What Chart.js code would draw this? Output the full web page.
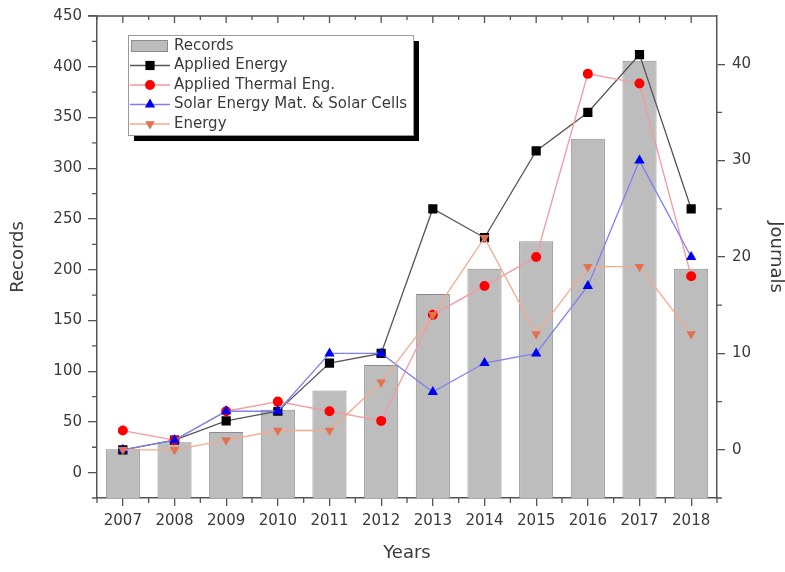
<!DOCTYPE html>
<html>
<head>
<meta charset="utf-8">
<script src="https://cdn.jsdelivr.net/npm/chart.js@4.4.1/dist/chart.umd.min.js"></script>
<style>
  html, body { margin: 0; padding: 0; background: #fff; }
</style>
</head>
<body>
<canvas id="chart" width="785" height="572"></canvas>
<script>
const years = ['2007', '2008', '2009', '2010', '2011', '2012', '2013', '2014', '2015', '2016', '2017', '2018'];

// bars, left axis
const records = [23, 30, 40, 62, 81, 106, 176, 201, 228, 329, 406, 201];

// journal lines, right axis
const appliedEnergy  = [0, 1, 3, 4, 9, 10, 25, 22, 31, 35, 41, 25];
const appliedThermal = [2, 1, 4, 5, 4, 3, 14, 17, 20, 39, 38, 18];
const solarCells     = [0, 1, 4, 4, 10, 10, 6, 9, 10, 17, 30, 20];
const energy         = [0, 0, 1, 2, 2, 7, 14, 22, 12, 19, 19, 12];

const recordTicks  = [0, 50, 100, 150, 200, 250, 300, 350, 400, 450];
const journalTicks = [0, 10, 20, 30, 40];

const recordsRange  = { min: -25, max: 450 };
const journalsRange = { min: -5, max: 45 };

const axisColor = '#555';
const textColor = '#3a3a3a';
const fontFamily = '"DejaVu Sans", "Liberation Sans", sans-serif';

// minor ticks, the top frame line and the mirrored top ticks
const frameTicks = {
  id: 'frameTicks',
  afterDraw(chart) {
    const { ctx, chartArea: a, scales } = chart;
    ctx.save();
    ctx.strokeStyle = axisColor;
    ctx.lineWidth = 1.3;
    ctx.beginPath();
    ctx.moveTo(a.left - 9, a.top);
    ctx.lineTo(a.right, a.top);

    for (let v = -25; v < recordsRange.max; v += 50) {
      const py = scales.y.getPixelForValue(v);
      ctx.moveTo(a.left - 5, py);
      ctx.lineTo(a.left, py);
    }
    for (let v = -5; v < journalsRange.max; v += 10) {
      const py = scales.y1.getPixelForValue(v);
      ctx.moveTo(a.right, py);
      ctx.lineTo(a.right + 5, py);
    }

    const step = scales.x.getPixelForValue(1) - scales.x.getPixelForValue(0);
    years.forEach((yr, i) => {
      const px = scales.x.getPixelForValue(i);
      ctx.moveTo(px, a.top);
      ctx.lineTo(px, a.top + 7);
      const mx = px - step / 2;
      ctx.moveTo(mx, a.top);
      ctx.lineTo(mx, a.top + 4);
      ctx.moveTo(mx, a.bottom);
      ctx.lineTo(mx, a.bottom + 5);
    });
    const endX = scales.x.getPixelForValue(years.length - 1) + step / 2;
    ctx.moveTo(endX, a.bottom);
    ctx.lineTo(endX, a.bottom + 5);
    ctx.stroke();
    ctx.restore();
  }
};

function drawMarker(ctx, style, x, y, r, rotation) {
  ctx.beginPath();
  if (style === 'rect') {
    const s = r * Math.SQRT1_2;
    ctx.rect(x - s, y - s, 2 * s, 2 * s);
  } else if (style === 'circle') {
    ctx.arc(x, y, r, 0, Math.PI * 2);
  } else if (style === 'triangle') {
    let rad = (rotation || 0) * Math.PI / 180;
    for (let k = 0; k < 3; k++) {
      const px = x + Math.sin(rad) * r;
      const py = y - Math.cos(rad) * r;
      k === 0 ? ctx.moveTo(px, py) : ctx.lineTo(px, py);
      rad += Math.PI * 2 / 3;
    }
    ctx.closePath();
  }
  ctx.fill();
}

// boxed legend with the drop shadow
const boxLegend = {
  id: 'boxLegend',
  afterDraw(chart) {
    const ctx = chart.ctx;
    const x = 128, y = 35, w = 285, h = 100;
    ctx.save();
    ctx.fillStyle = '#000';
    ctx.fillRect(x + 6, y + 6, w, h);
    ctx.fillStyle = '#fff';
    ctx.fillRect(x, y, w, h);
    ctx.strokeStyle = '#9a9a9a';
    ctx.lineWidth = 1;
    ctx.strokeRect(x + 0.5, y + 0.5, w, h);

    ctx.font = '15px ' + fontFamily;
    ctx.textBaseline = 'middle';
    chart.data.datasets.forEach((ds, i) => {
      const cy = y + 11 + i * 19.5;
      if (ds.type === 'bar') {
        ctx.fillStyle = ds.backgroundColor;
        ctx.fillRect(x + 3, cy - 6, 37, 12);
        ctx.strokeStyle = ds.borderColor;
        ctx.strokeRect(x + 3.5, cy - 5.5, 36, 11);
      } else {
        ctx.strokeStyle = ds.borderColor;
        ctx.lineWidth = ds.borderWidth;
        ctx.beginPath();
        ctx.moveTo(x + 2, cy);
        ctx.lineTo(x + 42, cy);
        ctx.stroke();
        ctx.fillStyle = ds.pointBackgroundColor;
        drawMarker(ctx, ds.pointStyle, x + 22, cy, ds.pointRadius, ds.pointRotation);
      }
      ctx.fillStyle = textColor;
      ctx.fillText(ds.label, x + 46, cy);
    });
    ctx.restore();
  }
};

function lineSet(label, data, lineColor, markColor, style, radius, rotation, order) {
  return {
    type: 'line',
    label: label,
    data: data,
    yAxisID: 'y1',
    borderColor: lineColor,
    borderWidth: 1.3,
    pointStyle: style,
    pointRadius: radius,
    pointRotation: rotation,
    pointBackgroundColor: markColor,
    pointBorderColor: markColor,
    pointBorderWidth: 0,
    tension: 0,
    fill: false,
    order: order
  };
}

const datasets = [
  {
    type: 'bar',
    label: 'Records',
    data: records,
    yAxisID: 'y',
    backgroundColor: '#bdbdbd',
    borderColor: '#8c8c8c',
    borderWidth: 1,
    borderSkipped: 'bottom',
    barPercentage: 0.66,
    categoryPercentage: 1,
    base: recordsRange.min,
    order: 10
  },
  lineSet('Applied Energy', appliedEnergy, '#555555', '#000000', 'rect', 6.5, 0, 4),
  lineSet('Applied Thermal Eng.', appliedThermal, '#f39a9f', '#ff0000', 'circle', 5, 0, 3),
  lineSet('Solar Energy Mat. & Solar Cells', solarCells, '#7f7ff5', '#0000f0', 'triangle', 6, 0, 2),
  lineSet('Energy', energy, '#f4a98c', '#e2714f', 'triangle', 5.5, 180, 1)
];

const tickFont = { family: fontFamily, size: 15 };
const titleFont = { family: fontFamily, size: 18, lineHeight: 1 };

const chart = new Chart(document.getElementById('chart'), {
  type: 'bar',
  data: { labels: years, datasets: datasets },
  options: {
    responsive: false,
    animation: false,
    devicePixelRatio: 1,
    layout: { padding: { top: 16, left: 0, right: 0, bottom: 0 } },
    plugins: {
      legend: { display: false },
      tooltip: { enabled: false }
    },
    scales: {
      x: {
        offset: true,
        grid: { offset: false, drawOnChartArea: false, drawTicks: true, tickLength: 8, color: axisColor, lineWidth: 1.3 },
        border: { display: true, color: axisColor, width: 1.5 },
        ticks: { font: tickFont, color: textColor, padding: 6, maxRotation: 0, autoSkip: false },
        title: { display: true, text: 'Years', font: titleFont, color: textColor, padding: { top: 0, bottom: 10 } },
        afterFit: s => { s.height = 74; }
      },
      y: {
        position: 'left',
        min: recordsRange.min,
        max: recordsRange.max,
        afterBuildTicks: s => { s.ticks = recordTicks.map(v => ({ value: v })); },
        grid: { drawOnChartArea: false, drawTicks: true, tickLength: 9, color: axisColor, lineWidth: 1.3 },
        border: { display: true, color: axisColor, width: 1.5 },
        ticks: { font: tickFont, color: textColor, padding: 6 },
        title: { display: true, text: 'Records', font: titleFont, color: textColor, padding: { top: 9, bottom: 0 } },
        afterFit: s => { s.width = 97; }
      },
      y1: {
        position: 'right',
        min: journalsRange.min,
        max: journalsRange.max,
        afterBuildTicks: s => { s.ticks = journalTicks.map(v => ({ value: v })); },
        grid: { drawOnChartArea: false, drawTicks: true, tickLength: 8, color: axisColor, lineWidth: 1.3 },
        border: { display: true, color: axisColor, width: 1.5 },
        ticks: { font: tickFont, color: textColor, padding: 7 },
        title: { display: true, text: 'Journals', font: titleFont, color: textColor, padding: { top: 0, bottom: 0 } },
        afterFit: s => { s.width = 68; }
      }
    }
  },
  plugins: [frameTicks, boxLegend]
});
</script>
</body>
</html>
